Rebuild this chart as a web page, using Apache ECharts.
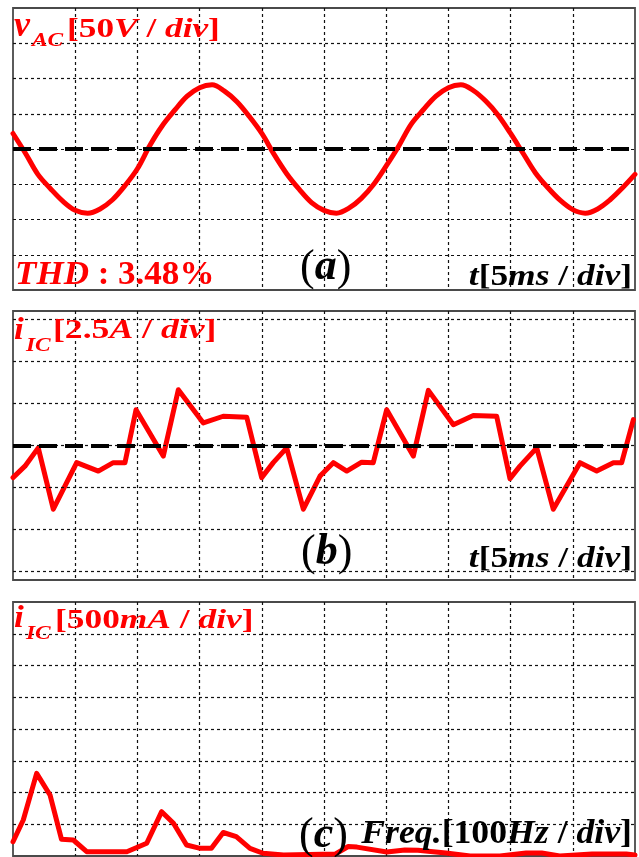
<!DOCTYPE html>
<html><head><meta charset="utf-8">
<script src="https://cdn.jsdelivr.net/npm/echarts@6/dist/echarts.min.js"></script>
<style>html,body{margin:0;padding:0;background:#fff}#c{width:639px;height:857px}</style>
</head><body><div id="c"></div>
<script>
// ---- data ----
// (a) grid voltage v_AC [V] vs time [ms]
const tA = [0,1,2,3,4,5,6,7,8,9,10,11,12,13,14,15,16,17,18,19,20,21,22,23,24,25,26,27,28,29,30,31,32,33,34,35,36,37,38,39,40,41,42,43,44,45,46,47,48,49,50];
const vA = [22,-6,-36,-56,-74,-87,-91,-85,-72,-52,-28,5,33,55,75,87,91,82,67,46,22,-8,-35,-57,-76,-87,-91,-84,-70,-50,-24,4,35,56,75,87,91,83,68,48,22,-6,-34,-55,-73,-86,-91,-85,-72,-55,-36];
// (b) current i_IC [A] vs time [ms]
const tB = [0,0.96,2.03,3.24,5.12,6.86,8.06,9.0,9.89,12.08,13.29,15.3,16.9,18.79,19.99,20.92,22.0,23.34,24.68,25.75,26.83,28.03,28.96,30.04,32.18,33.39,35.4,37.0,38.88,39.95,40.75,42.1,43.43,45.58,46.92,48.26,48.93,49.87];
const iB = [-1.91,-1.23,-0.14,-3.79,-1.02,-1.52,-1.02,-1.02,2.13,-0.63,3.32,1.34,1.74,1.68,-1.91,-1.02,-0.14,-3.79,-1.82,-1.02,-1.52,-0.99,-1.02,2.13,-0.63,3.28,1.24,1.78,1.74,-1.97,-1.23,-0.14,-3.79,-1.02,-1.52,-1.02,-1.02,1.54];
// (c) spectrum of i_IC [mA] vs frequency [Hz]
const fC = [0,16.5,38,59.5,78,97,118.5,183,215,239,258,279,301,319,338,359,381,402,435,518,539,553,601,630,651,696,735,783,825,850,879,931,986,1000];
const iC = [225,567,1302,961,263,252,68,68,200,698,515,173,121,121,370,304,121,43,16,30,150,140,63,95,90,47,0,0,47,47,0,30,30,16];

// axis scales (per division)
const timeRange = [0, 50], timeStep = 5;        // 5 ms/div
const vRange = [-200, 200], vStep = 50;         // 50 V/div
const iRange = [-8, 8];                          // panel (b) full height
const iGridLines = [-7.5, -5, -2.5, 0, 2.5, 5, 7.5]; // 2.5 A/div
const fRange = [0, 1000], fStep = 100;          // 100 Hz/div
const icRange = [0, 4000], icStep = 500;        // 500 mA/div

// ---- chart ----
const RED = '#ff0000';
const SERIF = '"Liberation Serif","Times New Roman",serif';
const gridDot = {color:'#111', width:1.2, type:[3,3]};
const dotted = {show:true, showMinLine:false, showMaxLine:false, lineStyle:gridDot};
function ax(gi, rng, step, split){
  const a = {type:'value', gridIndex:gi, min:rng[0], max:rng[1], axisLine:{show:false}, axisTick:{show:false}, axisLabel:{show:false}, splitLine: split ? dotted : {show:false}};
  if (step) a.interval = step;
  return a;
}
const gridStyle = {show:true, borderColor:'#4a4a4a', borderWidth:1.8, backgroundColor:'transparent'};
const grids = [
  Object.assign({left:13, top:8, width:622, height:282}, gridStyle),
  Object.assign({left:13, top:311, width:622, height:269}, gridStyle),
  Object.assign({left:13, top:602, width:622, height:254}, gridStyle)
];
function pairs(xs, ys){ return xs.map((x,i)=>[x, ys[i]]); }
function mark(xi, values, style, z){
  return {type:'line', xAxisIndex:xi, yAxisIndex:xi, data:[], z:z, silent:true,
    markLine:{silent:true, symbol:['none','none'], label:{show:false}, lineStyle:style, animation:false,
      data: values.map(v=>({yAxis:v}))}};
}
const redLine = {color:RED, width:5, cap:'round', join:'round'};
const series = [
  mark(0, [0], {color:'#000', width:4, type:[18,8]}, 2),
  {type:'line', xAxisIndex:0, yAxisIndex:0, data:pairs(tA, vA), smooth:0.35, showSymbol:false, lineStyle:redLine, z:3},
  mark(1, iGridLines, gridDot, 1),
  mark(1, [0], {color:'#000', width:4, type:[18,8]}, 2),
  {type:'line', xAxisIndex:1, yAxisIndex:1, data:pairs(tB, iB), showSymbol:false, lineStyle:redLine, z:3},
  {type:'line', xAxisIndex:2, yAxisIndex:2, data:pairs(fC, iC), showSymbol:false, lineStyle:redLine, z:3}
];

function rich(size, color){
  return {
    n:{fontSize:size, fontWeight:'bold', fontFamily:SERIF, fill:color},
    i:{fontSize:size, fontWeight:'bold', fontStyle:'italic', fontFamily:SERIF, fill:color},
    p:{fontSize:size, fontWeight:'normal', fontFamily:SERIF, fill:color}
  };
}
function T(x, y, text, size, color, sx, align){
  return {type:'text', x:x, y:y, scaleX:sx||1, z:10, silent:true,
    style:{text:text, rich:rich(size, color), fontSize:size, fontFamily:SERIF, fontWeight:'bold', fill:color,
      align:align||'left', verticalAlign:'middle'}};
}
const graphics = [
  // (a)
  T(14, 27, '{i|v}', 36, RED, 1.0),
  T(32, 41, '{i|AC}', 18, RED, 1.3),
  T(67, 30, '{n|[50}{i|V}{n| / }{i|div}{n|]}', 28, RED, 1.26),
  T(15, 275, '{i|THD}{n| : 3.48%}', 34, RED, 1.03),
  T(300, 268, '{p|(}{i|a}{p|)}', 44, '#000', 1.0),
  T(632, 277, '{i|t}{n|[5}{i|ms}{n| / }{i|div}{n|]}', 30, '#000', 1.18, 'right'),
  // (b)
  T(14, 331, '{i|i}', 32, RED, 1.1),
  T(26, 346, '{i|IC}', 18, RED, 1.3),
  T(53, 331, '{n|[2.5}{i|A}{n| / }{i|div}{n|]}', 27, RED, 1.32),
  T(301, 553, '{p|(}{i|b}{p|)}', 44, '#000', 1.0),
  T(632, 559, '{i|t}{n|[5}{i|ms}{n| / }{i|div}{n|]}', 30, '#000', 1.18, 'right'),
  // (c)
  T(14, 619, '{i|i}', 32, RED, 1.1),
  T(26, 634, '{i|IC}', 18, RED, 1.3),
  T(55, 621, '{n|[500}{i|mA}{n| / }{i|div}{n|]}', 27, RED, 1.31),
  T(299, 836, '{p|(}{i|c}{p|)}', 44, '#000', 1.0),
  T(632, 834, '{i|Freq.}{n|[100}{i|Hz}{n| / }{i|div}{n|]}', 34, '#000', 1.05, 'right')
];

const chart = echarts.init(document.getElementById('c'), null, {renderer:'canvas'});
chart.setOption({
  animation:false,
  backgroundColor:'#fff',
  grid: grids,
  xAxis: [ax(0, timeRange, timeStep, true), ax(1, timeRange, timeStep, true), ax(2, fRange, fStep, true)],
  yAxis: [ax(0, vRange, vStep, true), ax(1, iRange, null, false), ax(2, icRange, icStep, true)],
  series: series,
  graphic: graphics
});
</script></body></html>
